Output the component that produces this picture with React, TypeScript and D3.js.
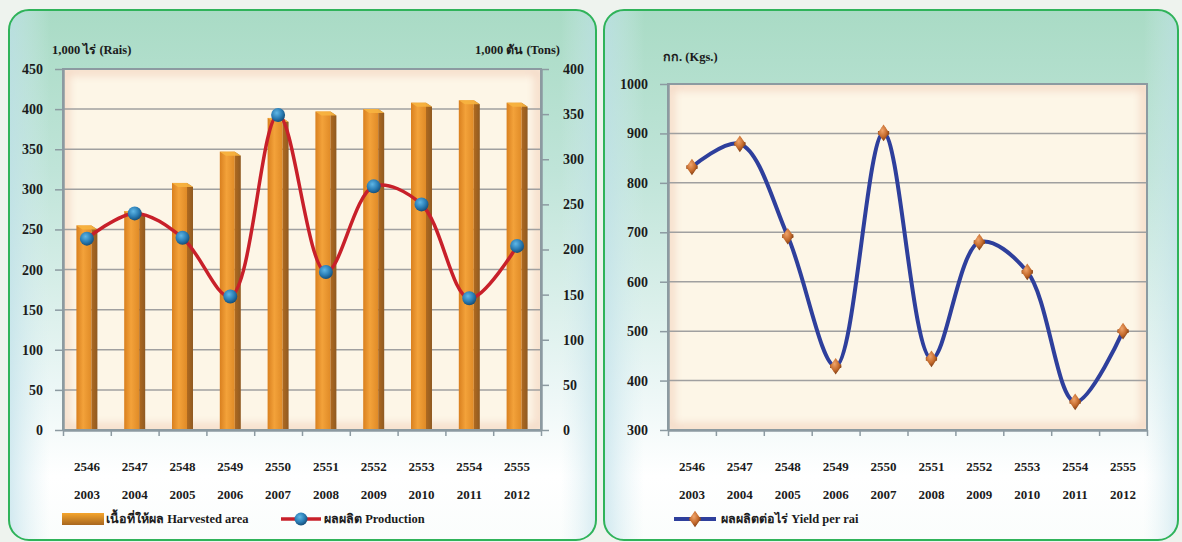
import { useEffect, useRef } from "react";
import * as d3 from "d3";

const yearsBE = ["2546", "2547", "2548", "2549", "2550", "2551", "2552", "2553", "2554", "2555"];
const yearsAD = ["2003", "2004", "2005", "2006", "2007", "2008", "2009", "2010", "2011", "2012"];

// 1,000 rai
const harvestedArea = [255, 273, 308, 347, 389, 397, 400, 408, 411, 408];
// 1,000 tons
const production = [212, 240, 213, 148, 349, 175, 270, 250, 146, 204];
// kg per rai
const yieldPerRai = [832, 879, 692, 429, 901, 444, 680, 620, 357, 500];

const areaTicks = [0, 50, 100, 150, 200, 250, 300, 350, 400, 450];
const productionTicks = [0, 50, 100, 150, 200, 250, 300, 350, 400];
const yieldTicks = [300, 400, 500, 600, 700, 800, 900, 1000];

const FONT = "'Liberation Serif', 'Times New Roman', serif";

export default function App() {
  const ref = useRef<SVGSVGElement>(null);

  useEffect(() => {
    if (!ref.current) return;
    const svg = d3.select(ref.current);
    svg.selectAll("*").remove();

    const defs = svg.append("defs");

    // panel background
    const pg = defs.append("linearGradient").attr("id", "panelGrad").attr("x1", 0).attr("y1", 0).attr("x2", 0).attr("y2", 1);
    pg.append("stop").attr("offset", "0").attr("stop-color", "#a9dbc5");
    pg.append("stop").attr("offset", "0.3").attr("stop-color", "#bfe4d8");
    pg.append("stop").attr("offset", "0.7").attr("stop-color", "#eaf6f5");
    pg.append("stop").attr("offset", "0.88").attr("stop-color", "#ffffff");
    pg.append("stop").attr("offset", "1").attr("stop-color", "#fafdfc");

    const side = defs.append("linearGradient").attr("id", "sideGrad").attr("x1", 0).attr("y1", 0).attr("x2", 1).attr("y2", 0);
    side.append("stop").attr("offset", "0").attr("stop-color", "#bfe0ea").attr("stop-opacity", 0.7);
    side.append("stop").attr("offset", "0.07").attr("stop-color", "#d8eef2").attr("stop-opacity", 0);
    side.append("stop").attr("offset", "0.94").attr("stop-color", "#d8eef2").attr("stop-opacity", 0);
    side.append("stop").attr("offset", "1").attr("stop-color", "#bfe0ea").attr("stop-opacity", 0.6);

    defs.append("filter").attr("id", "blur5").attr("x", "-10%").attr("y", "-10%").attr("width", "120%").attr("height", "120%")
      .append("feGaussianBlur").attr("stdDeviation", 4);

    // bar gradients
    const front = defs.append("linearGradient").attr("id", "barFront").attr("x1", 0).attr("y1", 0).attr("x2", 1).attr("y2", 0);
    front.append("stop").attr("offset", "0").attr("stop-color", "#d9801f");
    front.append("stop").attr("offset", "0.45").attr("stop-color", "#f3a23a");
    front.append("stop").attr("offset", "1").attr("stop-color", "#e08b27");
    const sideBar = defs.append("linearGradient").attr("id", "barSide").attr("x1", 0).attr("y1", 0).attr("x2", 1).attr("y2", 0);
    sideBar.append("stop").attr("offset", "0").attr("stop-color", "#b06a1f");
    sideBar.append("stop").attr("offset", "1").attr("stop-color", "#8f5a22");

    const blueBall = defs.append("radialGradient").attr("id", "blueBall").attr("cx", "40%").attr("cy", "35%").attr("r", "65%");
    blueBall.append("stop").attr("offset", "0").attr("stop-color", "#5fb7e6");
    blueBall.append("stop").attr("offset", "0.6").attr("stop-color", "#2a7db5");
    blueBall.append("stop").attr("offset", "1").attr("stop-color", "#17507a");

    const brownBall = defs.append("radialGradient").attr("id", "brownBall").attr("cx", "40%").attr("cy", "35%").attr("r", "65%");
    brownBall.append("stop").attr("offset", "0").attr("stop-color", "#f0a46a");
    brownBall.append("stop").attr("offset", "0.6").attr("stop-color", "#c46a2c");
    brownBall.append("stop").attr("offset", "1").attr("stop-color", "#7a3a12");

    const drawPanel = (x: number, y: number, w: number, h: number) => {
      svg.append("rect").attr("x", x).attr("y", y).attr("width", w).attr("height", h).attr("rx", 20)
        .attr("fill", "url(#panelGrad)");
      svg.append("rect").attr("x", x).attr("y", y).attr("width", w).attr("height", h).attr("rx", 20)
        .attr("fill", "url(#sideGrad)");
      svg.append("rect").attr("x", x).attr("y", y).attr("width", w).attr("height", h).attr("rx", 20)
        .attr("fill", "none").attr("stroke", "#2fb35a").attr("stroke-width", 2);
    };

    const drawPlotArea = (id: string, x0: number, x1: number, y0: number, y1: number) => {
      defs.append("clipPath").attr("id", id).append("rect")
        .attr("x", x0).attr("y", y0).attr("width", x1 - x0).attr("height", y1 - y0);
      svg.append("rect").attr("x", x0).attr("y", y0).attr("width", x1 - x0).attr("height", y1 - y0)
        .attr("fill", "#fdf6e7");
      svg.append("g").attr("clip-path", `url(#${id})`)
        .append("rect").attr("x", x0 + 2).attr("y", y0 + 2).attr("width", x1 - x0 - 4).attr("height", y1 - y0 - 4)
        .attr("fill", "none").attr("stroke", "#f0cdb8").attr("stroke-opacity", 0.75).attr("stroke-width", 8).attr("filter", "url(#blur5)");
    };

    const drawXLabels = (x: d3.ScaleBand<string>, yBottom: number) => {
      const g = svg.append("g").attr("font-family", FONT).attr("font-weight", "bold").attr("font-size", 13)
        .attr("fill", "#1b1b1b").attr("text-anchor", "middle");
      g.selectAll("text.be").data(yearsBE).join("text").attr("class", "be")
        .attr("x", (d) => x(d)! + x.bandwidth() / 2).attr("y", yBottom + 41).text((d) => d);
      g.selectAll("text.ad").data(yearsAD).join("text").attr("class", "ad")
        .attr("x", (d, i) => x(yearsBE[i])! + x.bandwidth() / 2).attr("y", yBottom + 69).text((d) => d);
    };

    const styleAxis = (g: d3.Selection<SVGGElement, unknown, null, undefined>) => {
      g.selectAll(".domain").attr("stroke", "#8c9aa1").attr("stroke-width", 2.5);
      g.selectAll(".tick line").attr("stroke", "#8c9aa1").attr("stroke-width", 1.5);
      g.selectAll(".tick text").attr("font-family", FONT).attr("font-weight", "bold").attr("font-size", 14).attr("fill", "#1b1b1b");
    };

    // ---------------- LEFT CHART ----------------
    drawPanel(9, 10, 587, 530);
    const L = { left: 63, right: 541, top: 69, bottom: 430 };
    drawPlotArea("clipL", L.left, L.right, L.top, L.bottom);

    const xL = d3.scaleBand<string>().domain(yearsBE).range([L.left, L.right]).padding(0);
    const yArea = d3.scaleLinear().domain([0, 450]).range([L.bottom, L.top]);
    const yProd = d3.scaleLinear().domain([0, 400]).range([L.bottom, L.top]);

    // gridlines
    svg.append("g").selectAll("line").data(areaTicks.slice(1)).join("line")
      .attr("x1", L.left).attr("x2", L.right).attr("y1", (d) => yArea(d)).attr("y2", (d) => yArea(d))
      .attr("stroke", "#a0a0a0").attr("stroke-width", 1.5);

    // bars (3D look)
    const barW = 15;
    const sideW = 6;
    const barG = svg.append("g");
    harvestedArea.forEach((v, i) => {
      const cx = xL(yearsBE[i])! + xL.bandwidth() / 2;
      const x0 = cx - (barW + sideW) / 2;
      const yt = yArea(v);
      barG.append("rect").attr("x", x0).attr("y", yt).attr("width", barW).attr("height", L.bottom - yt)
        .attr("fill", "url(#barFront)");
      barG.append("path")
        .attr("d", `M${x0 + barW},${yt} L${x0 + barW + sideW},${yt + 4} L${x0 + barW + sideW},${L.bottom} L${x0 + barW},${L.bottom} Z`)
        .attr("fill", "url(#barSide)");
      barG.append("path")
        .attr("d", `M${x0},${yt} L${x0 + barW},${yt} L${x0 + barW + sideW},${yt + 4} L${x0 + sideW},${yt + 4} Z`)
        .attr("fill", "#f7b440").attr("opacity", 0.9);
    });

    // plot frame
    svg.append("rect").attr("x", L.left).attr("y", L.top).attr("width", L.right - L.left).attr("height", L.bottom - L.top)
      .attr("fill", "none").attr("stroke", "#8c9aa1").attr("stroke-width", 2);

    // axes
    svg.append("g").attr("transform", `translate(${L.left},0)`)
      .call(d3.axisLeft(yArea).tickValues(areaTicks).tickFormat(d3.format("d")).tickSize(8).tickPadding(12).tickSizeOuter(0))
      .call(styleAxis);
    svg.append("g").attr("transform", `translate(${L.right},0)`)
      .call(d3.axisRight(yProd).tickValues(productionTicks).tickFormat(d3.format("d")).tickSize(8).tickPadding(14).tickSizeOuter(0))
      .call(styleAxis);
    const xBoundL = d3.scaleLinear().domain([0, yearsBE.length]).range([L.left, L.right]);
    svg.append("g").attr("transform", `translate(0,${L.bottom})`)
      .call(d3.axisBottom(xBoundL).tickValues(d3.range(0, yearsBE.length + 1)).tickFormat(() => "").tickSize(6).tickSizeOuter(0))
      .call(styleAxis);
    drawXLabels(xL, L.bottom);

    // production line
    const lineProd = d3.line<number>()
      .x((d, i) => xL(yearsBE[i])! + xL.bandwidth() / 2)
      .y((d) => yProd(d))
      .curve(d3.curveCatmullRom.alpha(0.5));
    svg.append("path").attr("d", lineProd(production)).attr("fill", "none")
      .attr("stroke", "#c8202a").attr("stroke-width", 3.5);
    svg.append("g").selectAll("circle").data(production).join("circle")
      .attr("cx", (d, i) => xL(yearsBE[i])! + xL.bandwidth() / 2).attr("cy", (d) => yProd(d))
      .attr("r", 7).attr("fill", "url(#blueBall)");

    // axis titles
    svg.append("text").attr("x", 52).attr("y", 54).attr("font-family", FONT).attr("font-weight", "bold")
      .attr("font-size", 12.5).attr("fill", "#1b1b1b").text("1,000 ไร่ (Rais)");
    svg.append("text").attr("x", 560).attr("y", 54).attr("text-anchor", "end").attr("font-family", FONT).attr("font-weight", "bold")
      .attr("font-size", 12.5).attr("fill", "#1b1b1b").text("1,000 ตัน (Tons)");

    // legend left
    const legL = svg.append("g").attr("font-family", FONT).attr("font-weight", "bold").attr("font-size", 12.5).attr("fill", "#1b1b1b");
    const lgGrad = defs.append("linearGradient").attr("id", "legBar").attr("x1", 0).attr("y1", 0).attr("x2", 0).attr("y2", 1);
    lgGrad.append("stop").attr("offset", "0").attr("stop-color", "#f5a52c");
    lgGrad.append("stop").attr("offset", "1").attr("stop-color", "#a8671f");
    legL.append("rect").attr("x", 62).attr("y", 513).attr("width", 42).attr("height", 12).attr("fill", "url(#legBar)");
    legL.append("text").attr("x", 106).attr("y", 523).text("เนื้อที่ให้ผล Harvested area");
    legL.append("line").attr("x1", 281).attr("x2", 321).attr("y1", 519).attr("y2", 519)
      .attr("stroke", "#c8202a").attr("stroke-width", 3.5);
    legL.append("circle").attr("cx", 301).attr("cy", 519).attr("r", 6.5).attr("fill", "url(#blueBall)");
    legL.append("text").attr("x", 324).attr("y", 523).text("ผลผลิต Production");

    // ---------------- RIGHT CHART ----------------
    drawPanel(604, 10, 574, 530);
    const R = { left: 668, right: 1147, top: 84, bottom: 430 };
    drawPlotArea("clipR", R.left, R.right, R.top, R.bottom);

    const xR = d3.scaleBand<string>().domain(yearsBE).range([R.left, R.right]).padding(0);
    const yYield = d3.scaleLinear().domain([300, 1000]).range([R.bottom, R.top]);

    svg.append("g").selectAll("line").data(yieldTicks.slice(1)).join("line")
      .attr("x1", R.left).attr("x2", R.right).attr("y1", (d) => yYield(d)).attr("y2", (d) => yYield(d))
      .attr("stroke", "#a0a0a0").attr("stroke-width", 1.5);

    svg.append("rect").attr("x", R.left).attr("y", R.top).attr("width", R.right - R.left).attr("height", R.bottom - R.top)
      .attr("fill", "none").attr("stroke", "#8c9aa1").attr("stroke-width", 2);

    svg.append("g").attr("transform", `translate(${R.left},0)`)
      .call(d3.axisLeft(yYield).tickValues(yieldTicks).tickFormat(d3.format("d")).tickSize(8).tickPadding(12).tickSizeOuter(0))
      .call(styleAxis);
    const xBoundR = d3.scaleLinear().domain([0, yearsBE.length]).range([R.left, R.right]);
    svg.append("g").attr("transform", `translate(0,${R.bottom})`)
      .call(d3.axisBottom(xBoundR).tickValues(d3.range(0, yearsBE.length + 1)).tickFormat(() => "").tickSize(6).tickSizeOuter(0))
      .call(styleAxis);
    drawXLabels(xR, R.bottom);

    const lineYield = d3.line<number>()
      .x((d, i) => xR(yearsBE[i])! + xR.bandwidth() / 2)
      .y((d) => yYield(d))
      .curve(d3.curveCatmullRom.alpha(0.5));
    svg.append("path").attr("d", lineYield(yieldPerRai)).attr("fill", "none")
      .attr("stroke", "#2e3f9c").attr("stroke-width", 4);

    const diamond = d3.symbol().type(d3.symbolDiamond).size(80);
    const cross = d3.symbol().type(d3.symbolCross).size(70);
    const mk = svg.append("g");
    yieldPerRai.forEach((v, i) => {
      const cx = xR(yearsBE[i])! + xR.bandwidth() / 2;
      const cy = yYield(v);
      mk.append("path").attr("d", cross()).attr("transform", `translate(${cx},${cy})`).attr("fill", "#9a5220");
      mk.append("path").attr("d", diamond()).attr("transform", `translate(${cx},${cy}) scale(1.2,1)`).attr("fill", "url(#brownBall)");
    });

    svg.append("text").attr("x", 663).attr("y", 61).attr("font-family", FONT).attr("font-weight", "bold")
      .attr("font-size", 12.5).attr("fill", "#1b1b1b").text("กก. (Kgs.)");

    const legR = svg.append("g").attr("font-family", FONT).attr("font-weight", "bold").attr("font-size", 12.5).attr("fill", "#1b1b1b");
    legR.append("line").attr("x1", 674).attr("x2", 716).attr("y1", 519).attr("y2", 519)
      .attr("stroke", "#2e3f9c").attr("stroke-width", 4);
    legR.append("path").attr("d", cross()).attr("transform", "translate(695,519)").attr("fill", "#9a5220");
    legR.append("path").attr("d", diamond()).attr("transform", "translate(695,519) scale(1.2,1)").attr("fill", "url(#brownBall)");
    legR.append("text").attr("x", 721).attr("y", 523).text("ผลผลิตต่อไร่ Yield per rai");
  }, []);

  return (
    <svg
      ref={ref}
      width={1182}
      height={542}
      style={{ position: "absolute", left: 0, top: 0, background: "#eef3ee", display: "block" }}
    />
  );
}
